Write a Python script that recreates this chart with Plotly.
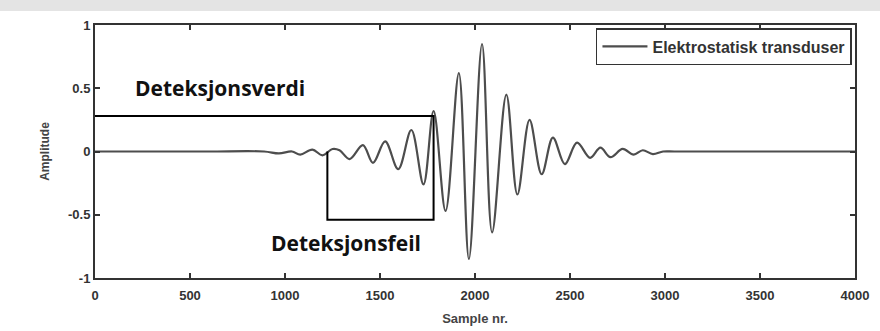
import plotly.graph_objects as go

# Waveform extrema (sample number, amplitude)
samples = [0, 300, 600, 890, 968, 1037, 1080, 1144, 1197, 1250, 1287, 1340, 1410, 1463, 1527,
           1596, 1665, 1729, 1782, 1845, 1915, 1968, 2037, 2090, 2165, 2223, 2287,
           2351, 2410, 2473, 2537, 2606, 2660, 2713, 2777, 2835, 2883, 2936, 2990,
           3050, 3300, 3600, 4000]
amplitude = [0, 0, 0, 0, -0.015, 0.0, -0.025, 0.015, -0.03, 0.02, 0.01, -0.06, 0.05, -0.09, 0.08,
             -0.14, 0.17, -0.26, 0.32, -0.47, 0.62, -0.85, 0.85, -0.64, 0.45, -0.34, 0.25,
             -0.18, 0.11, -0.10, 0.07, -0.05, 0.03, -0.045, 0.02, -0.025, 0.01, -0.02, 0.0,
             0.0, 0.0, 0.0, 0.0]

# Detection bracket
bracket_x = [0, 1782, 1782, 1223, 1223]
bracket_y = [0.28, 0.28, -0.54, -0.54, 0.0]

x_ticks = [0, 500, 1000, 1500, 2000, 2500, 3000, 3500, 4000]
y_ticks = [-1, -0.5, 0, 0.5, 1]
y_tick_text = ["-1", "-0.5", "0", "0.5", "1"]

series_name = "Elektrostatisk transduser"
label_value = "Deteksjonsverdi"
label_error = "Deteksjonsfeil"

fig = go.Figure()
fig.add_trace(go.Scatter(
    x=samples, y=amplitude, mode="lines", name=series_name,
    line=dict(color="#4d4d4d", width=2.2, shape="spline", smoothing=1.0),
))
fig.add_trace(go.Scatter(
    x=bracket_x, y=bracket_y, mode="lines", showlegend=False,
    line=dict(color="black", width=2), hoverinfo="skip",
))

fig.add_annotation(x=200, y=0.505, xref="x", yref="y", text=label_value,
                   showarrow=False, xanchor="left", yanchor="middle",
                   font=dict(family="Open Sans", size=21, color="#111", weight="bold"))
fig.add_annotation(x=918, y=-0.72, xref="x", yref="y", text=label_error,
                   showarrow=False, xanchor="left", yanchor="middle",
                   font=dict(family="Open Sans", size=21, color="#111", weight="bold"))

# grey scanner band at the top
fig.add_shape(type="rect", xref="paper", yref="paper", x0=-0.2, x1=1.1,
              y0=1.055, y1=1.2, fillcolor="#e4e4e4", line=dict(width=0), layer="below")

axis_common = dict(showline=True, linecolor="#333", linewidth=2, mirror="ticks",
                   ticks="inside", ticklen=5, tickcolor="#333", tickwidth=2,
                   showgrid=False, zeroline=False, automargin=False,
                   tickfont=dict(family="Arial", size=13, color="#333", weight="bold"))

fig.update_layout(
    width=880, height=331,
    margin=dict(l=95, r=25, t=25, b=53),
    paper_bgcolor="white", plot_bgcolor="white",
    xaxis=dict(range=[0, 4000], tickvals=x_ticks, ticklabelstandoff=4,
               title=dict(text="Sample nr.", font=dict(family="Arial", size=13, color="#444", weight="bold"), standoff=12),
               **axis_common),
    yaxis=dict(range=[-1, 1], tickvals=y_ticks, ticktext=y_tick_text,
               title=dict(text="Amplitude", font=dict(family="Arial", size=12, color="#444", weight="bold"), standoff=16),
               **axis_common),
    legend=dict(x=0.996, y=0.988, xanchor="right", yanchor="top",
                bgcolor="white", bordercolor="#333", borderwidth=1.5, itemwidth=45,
                font=dict(family="Arial", size=16, color="#333", weight="bold")),
    showlegend=True,
)

fig.write_html("out.html")
